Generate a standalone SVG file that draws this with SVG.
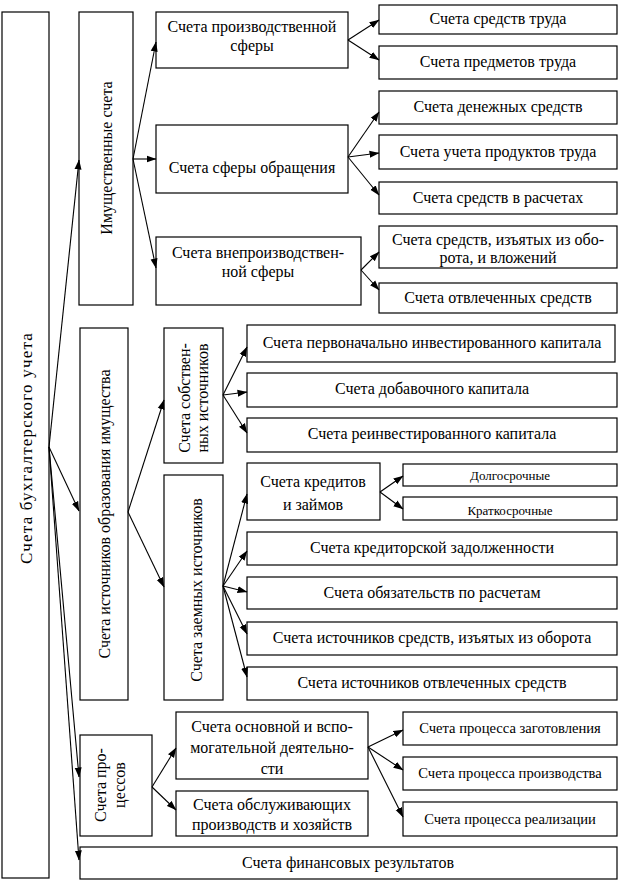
<svg xmlns="http://www.w3.org/2000/svg" width="620" height="882" viewBox="0 0 620 882">
<style>
.b{fill:#fff;stroke:#000;stroke-width:1.2}
text{font-size:16px;fill:#000;text-anchor:middle}
.s{font-size:13px}
.p{font-size:14.6px}
.c line{stroke:#000;stroke-width:1.1;marker-end:url(#a)}
</style>
<defs>
<marker id="a" markerWidth="10" markerHeight="8" refX="9.5" refY="4" orient="auto" markerUnits="userSpaceOnUse"><path d="M0,0.5 L10,4 L0,7.5 z" fill="#000"/></marker>
</defs>
<rect width="620" height="882" fill="#fff"/>
<g font-family="'Liberation Serif', 'DejaVu Serif', serif">

<g id="root"><rect class="b" x="2" y="12" width="47" height="866"/><text transform="translate(26,448) rotate(-90)" dominant-baseline="central" style="font-size:17px;letter-spacing:1.2px">Счета бухгалтерского учета</text></g>

<g id="imush"><rect class="b" x="79" y="12" width="54" height="293"/><text transform="translate(106,158) rotate(-90)" dominant-baseline="central">Имущественные счета</text></g>

<g id="proizv"><rect class="b" x="156" y="12" width="192" height="56"/><text x="252" y="32">Счета производственной</text><text x="252" y="51">сферы</text></g>
<g id="obrasch"><rect class="b" x="156" y="125" width="192" height="68"/><text x="252" y="173">Счета сферы обращения</text></g>
<g id="vneproizv"><rect class="b" x="156" y="237" width="205" height="68"/><text x="258" y="258">Счета внепроизводствен-</text><text x="258" y="277">ной сферы</text></g>

<g id="r1"><rect class="b" x="379" y="5" width="238" height="29"/><text x="498" y="24">Счета средств труда</text></g>
<g id="r2"><rect class="b" x="379" y="46" width="238" height="33"/><text x="498" y="67">Счета предметов труда</text></g>
<g id="r3"><rect class="b" x="379" y="91" width="238" height="33"/><text x="498" y="112">Счета денежных средств</text></g>
<g id="r4"><rect class="b" x="379" y="135" width="238" height="34"/><text x="498" y="157">Счета учета продуктов труда</text></g>
<g id="r5"><rect class="b" x="379" y="182" width="238" height="32"/><text x="498" y="203">Счета средств в расчетах</text></g>
<g id="r6"><rect class="b" x="379" y="226" width="238" height="42"/><text x="498" y="245">Счета средств, изъятых из обо-</text><text x="498" y="263">рота, и вложений</text></g>
<g id="r7"><rect class="b" x="379" y="283" width="238" height="30"/><text x="498" y="303">Счета отвлеченных средств</text></g>

<g id="istoch"><rect class="b" x="80" y="328" width="48" height="372"/><text transform="translate(104,514) rotate(-90)" dominant-baseline="central">Счета источников образования имущества</text></g>
<g id="sobstv"><rect class="b" x="164" y="328" width="59" height="135"/><text transform="translate(193,398) rotate(-90)"><tspan x="0" y="-3">Счета собствен-</tspan><tspan x="0" y="15">ных источников</tspan></text></g>
<g id="zaem"><rect class="b" x="164" y="475" width="59" height="225"/><text transform="translate(196,590) rotate(-90)" dominant-baseline="central">Счета заемных источников</text></g>

<g id="k1"><rect class="b" x="247" y="325" width="368" height="37"/><text x="432" y="348">Счета первоначально инвестированного капитала</text></g>
<g id="k2"><rect class="b" x="247" y="373" width="370" height="34"/><text x="432" y="394">Счета добавочного капитала</text></g>
<g id="k3"><rect class="b" x="247" y="418" width="370" height="34"/><text x="432" y="439">Счета реинвестированного капитала</text></g>
<g id="kred"><rect class="b" x="247" y="463" width="133" height="57"/><text x="313" y="487">Счета кредитов</text><text x="313" y="510">и займов</text></g>
<g id="dolg"><rect class="b" x="403" y="464" width="214" height="22"/><text class="s" x="510" y="480">Долгосрочные</text></g>
<g id="krat"><rect class="b" x="403" y="497" width="214" height="23"/><text class="s" x="510" y="515">Краткосрочные</text></g>
<g id="z1"><rect class="b" x="247" y="532" width="370" height="33"/><text x="432" y="553">Счета кредиторской задолженности</text></g>
<g id="z2"><rect class="b" x="247" y="577" width="370" height="32"/><text x="432" y="598">Счета обязательств по расчетам</text></g>
<g id="z3"><rect class="b" x="247" y="622" width="370" height="33"/><text x="432" y="643">Счета источников средств, изъятых из оборота</text></g>
<g id="z4"><rect class="b" x="247" y="667" width="370" height="33"/><text x="432" y="688">Счета источников отвлеченных средств</text></g>

<g id="proc"><rect class="b" x="80" y="735" width="72" height="101"/><text transform="translate(111,785) rotate(-90)"><tspan x="0" y="-5">Счета про-</tspan><tspan x="0" y="14">цессов</tspan></text></g>
<g id="osn"><rect class="b" x="176" y="712" width="192" height="67"/><text x="272" y="732">Счета основной и вспо-</text><text x="272" y="753">могательной деятельно-</text><text x="272" y="774">сти</text></g>
<g id="obsl"><rect class="b" x="176" y="791" width="192" height="45"/><text x="272" y="810">Счета обслуживающих</text><text x="272" y="830">производств и хозяйств</text></g>
<g id="p1"><rect class="b" x="403" y="712" width="214" height="33"/><text class="p" x="510" y="733">Счета процесса заготовления</text></g>
<g id="p2"><rect class="b" x="403" y="757" width="214" height="33"/><text class="p" x="510" y="778">Счета процесса производства</text></g>
<g id="p3"><rect class="b" x="403" y="802" width="214" height="34"/><text class="p" x="510" y="824">Счета процесса реализации</text></g>
<g id="fin"><rect class="b" x="80" y="847" width="537" height="32"/><text x="348" y="868">Счета финансовых результатов</text></g>
</g>

<g id="connectors" class="c">
<line x1="49" y1="447" x2="79" y2="160"/>
<line x1="49" y1="447" x2="79" y2="511"/>
<line x1="49" y1="447" x2="79" y2="777"/>
<line x1="49" y1="447" x2="79" y2="860"/>
<line x1="133" y1="159" x2="156" y2="42"/>
<line x1="133" y1="159" x2="156" y2="159"/>
<line x1="133" y1="159" x2="156" y2="268"/>
<line x1="348" y1="40" x2="379" y2="20"/>
<line x1="348" y1="40" x2="379" y2="60"/>
<line x1="348" y1="157" x2="379" y2="112"/>
<line x1="348" y1="157" x2="379" y2="153"/>
<line x1="348" y1="157" x2="379" y2="195"/>
<line x1="361" y1="270" x2="379" y2="252"/>
<line x1="361" y1="270" x2="379" y2="290"/>
<line x1="128" y1="512" x2="164" y2="400"/>
<line x1="128" y1="512" x2="164" y2="587"/>
<line x1="223" y1="395" x2="247" y2="347"/>
<line x1="223" y1="395" x2="247" y2="392"/>
<line x1="223" y1="395" x2="247" y2="433"/>
<line x1="223" y1="586" x2="247" y2="494"/>
<line x1="223" y1="586" x2="247" y2="551"/>
<line x1="223" y1="586" x2="247" y2="592"/>
<line x1="223" y1="586" x2="247" y2="634"/>
<line x1="223" y1="586" x2="247" y2="677"/>
<line x1="380" y1="492" x2="403" y2="476"/>
<line x1="380" y1="492" x2="403" y2="509"/>
<line x1="152" y1="787" x2="176" y2="748"/>
<line x1="152" y1="787" x2="176" y2="810"/>
<line x1="368" y1="747" x2="403" y2="730"/>
<line x1="368" y1="747" x2="403" y2="770"/>
<line x1="368" y1="747" x2="403" y2="817"/>
</g>
</svg>
